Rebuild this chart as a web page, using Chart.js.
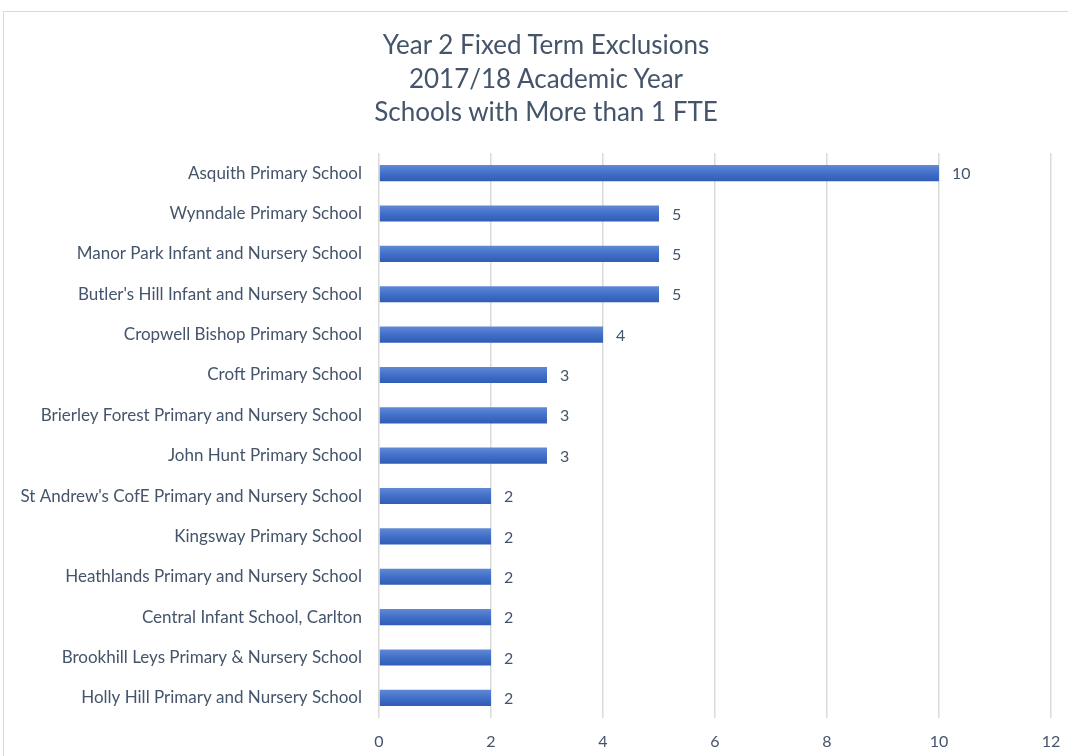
<!DOCTYPE html>
<html>
<head>
<meta charset="utf-8">
<script src="https://cdn.jsdelivr.net/npm/chart.js@4"></script>
<style>
  html, body { margin: 0; padding: 0; background: #fff; overflow: hidden; }
  #frame { position: absolute; left: 3px; top: 11px; width: 1200px; height: 900px;
           border-left: 1px solid #D9D9D9; border-top: 1px solid #D9D9D9; }
  #wrap { position: absolute; left: 3px; top: 0; width: 1086px; height: 756px; }
  #title { position: absolute; left: 3px; top: 28px; width: 1086px; text-align: center;
           font: 26px/33.5px Lato, "Open Sans", sans-serif; color: #44546A; }
</style>
</head>
<body>
<div id="frame"></div>
<div id="wrap"><canvas id="chart"></canvas></div>
<div id="title"></div>
<script>
// --- data ---
const schools = [
    "Asquith Primary School",
    "Wynndale Primary School",
    "Manor Park Infant and Nursery School",
    "Butler's Hill Infant and Nursery School",
    "Cropwell Bishop Primary School",
    "Croft Primary School",
    "Brierley Forest Primary and Nursery School",
    "John Hunt Primary School",
    "St Andrew's CofE Primary and Nursery School",
    "Kingsway Primary School",
    "Heathlands Primary and Nursery School",
    "Central Infant School, Carlton",
    "Brookhill Leys Primary & Nursery School",
    "Holly Hill Primary and Nursery School"
];
const exclusions = [10, 5, 5, 5, 4, 3, 3, 3, 2, 2, 2, 2, 2, 2];
const titleLines = ["Year 2 Fixed Term Exclusions", "2017/18 Academic Year", "Schools with More than 1 FTE"];

const textColor = '#44546A';
const fontFamily = 'Lato, "Open Sans", sans-serif';

// title sits above the canvas so it centres on the whole chart box
const titleEl = document.getElementById('title');
titleLines.forEach(line => {
    const d = document.createElement('div');
    d.textContent = line;
    titleEl.appendChild(d);
});

// gradient for each bar, built from the y scale position
function barFill(ctx) {
    const chart = ctx.chart;
    const yScale = chart.scales.y;
    if (!yScale || ctx.dataIndex === undefined) return '#4472C4';
    const yc = yScale.getPixelForValue(ctx.dataIndex);
    if (!isFinite(yc)) return '#4472C4';
    const g = chart.ctx.createLinearGradient(0, yc - 8, 0, yc + 8);
    g.addColorStop(0, '#6089D6');
    g.addColorStop(0.5, '#4270C8');
    g.addColorStop(1, '#2F5DB5');
    return g;
}

// value labels at the end of each bar
const valueLabels = {
    id: 'valueLabels',
    afterDatasetsDraw(chart) {
        const ctx = chart.ctx;
        const meta = chart.getDatasetMeta(0);
        ctx.save();
        ctx.font = '16px ' + fontFamily;
        ctx.fillStyle = textColor;
        ctx.textBaseline = 'middle';
        ctx.textAlign = 'left';
        meta.data.forEach((bar, i) => {
            ctx.fillText(String(exclusions[i]), bar.x + 13, bar.y + 1);
        });
        ctx.restore();
    }
};

new Chart(document.getElementById('chart'), {
    type: 'bar',
    data: {
        labels: schools,
        datasets: [{
            data: exclusions,
            backgroundColor: barFill,
            borderWidth: 0,
            barPercentage: 0.4,
            categoryPercentage: 1.0
        }]
    },
    plugins: [valueLabels],
    options: {
        indexAxis: 'y',
        responsive: true,
        maintainAspectRatio: false,
        animation: false,
        layout: { padding: { left: 0, right: 38, top: 153, bottom: 0 } },
        plugins: {
            legend: { display: false },
            tooltip: { enabled: false },
            title: { display: false }
        },
        scales: {
            x: {
                min: 0,
                max: 12,
                ticks: { stepSize: 2, color: textColor, padding: 14,
                         font: { family: fontFamily, size: 16 } },
                grid: { color: '#D9D9D9', lineWidth: 1.5, drawTicks: false },
                border: { display: false },
                afterFit(scale) { scale.height = 38; }
            },
            y: {
                ticks: { color: textColor, padding: 17, autoSkip: false,
                         font: { family: fontFamily, size: 17 } },
                grid: { display: false, drawTicks: false },
                border: { display: false },
                afterFit(scale) { scale.width = 376; }
            }
        }
    }
});
</script>
</body>
</html>
